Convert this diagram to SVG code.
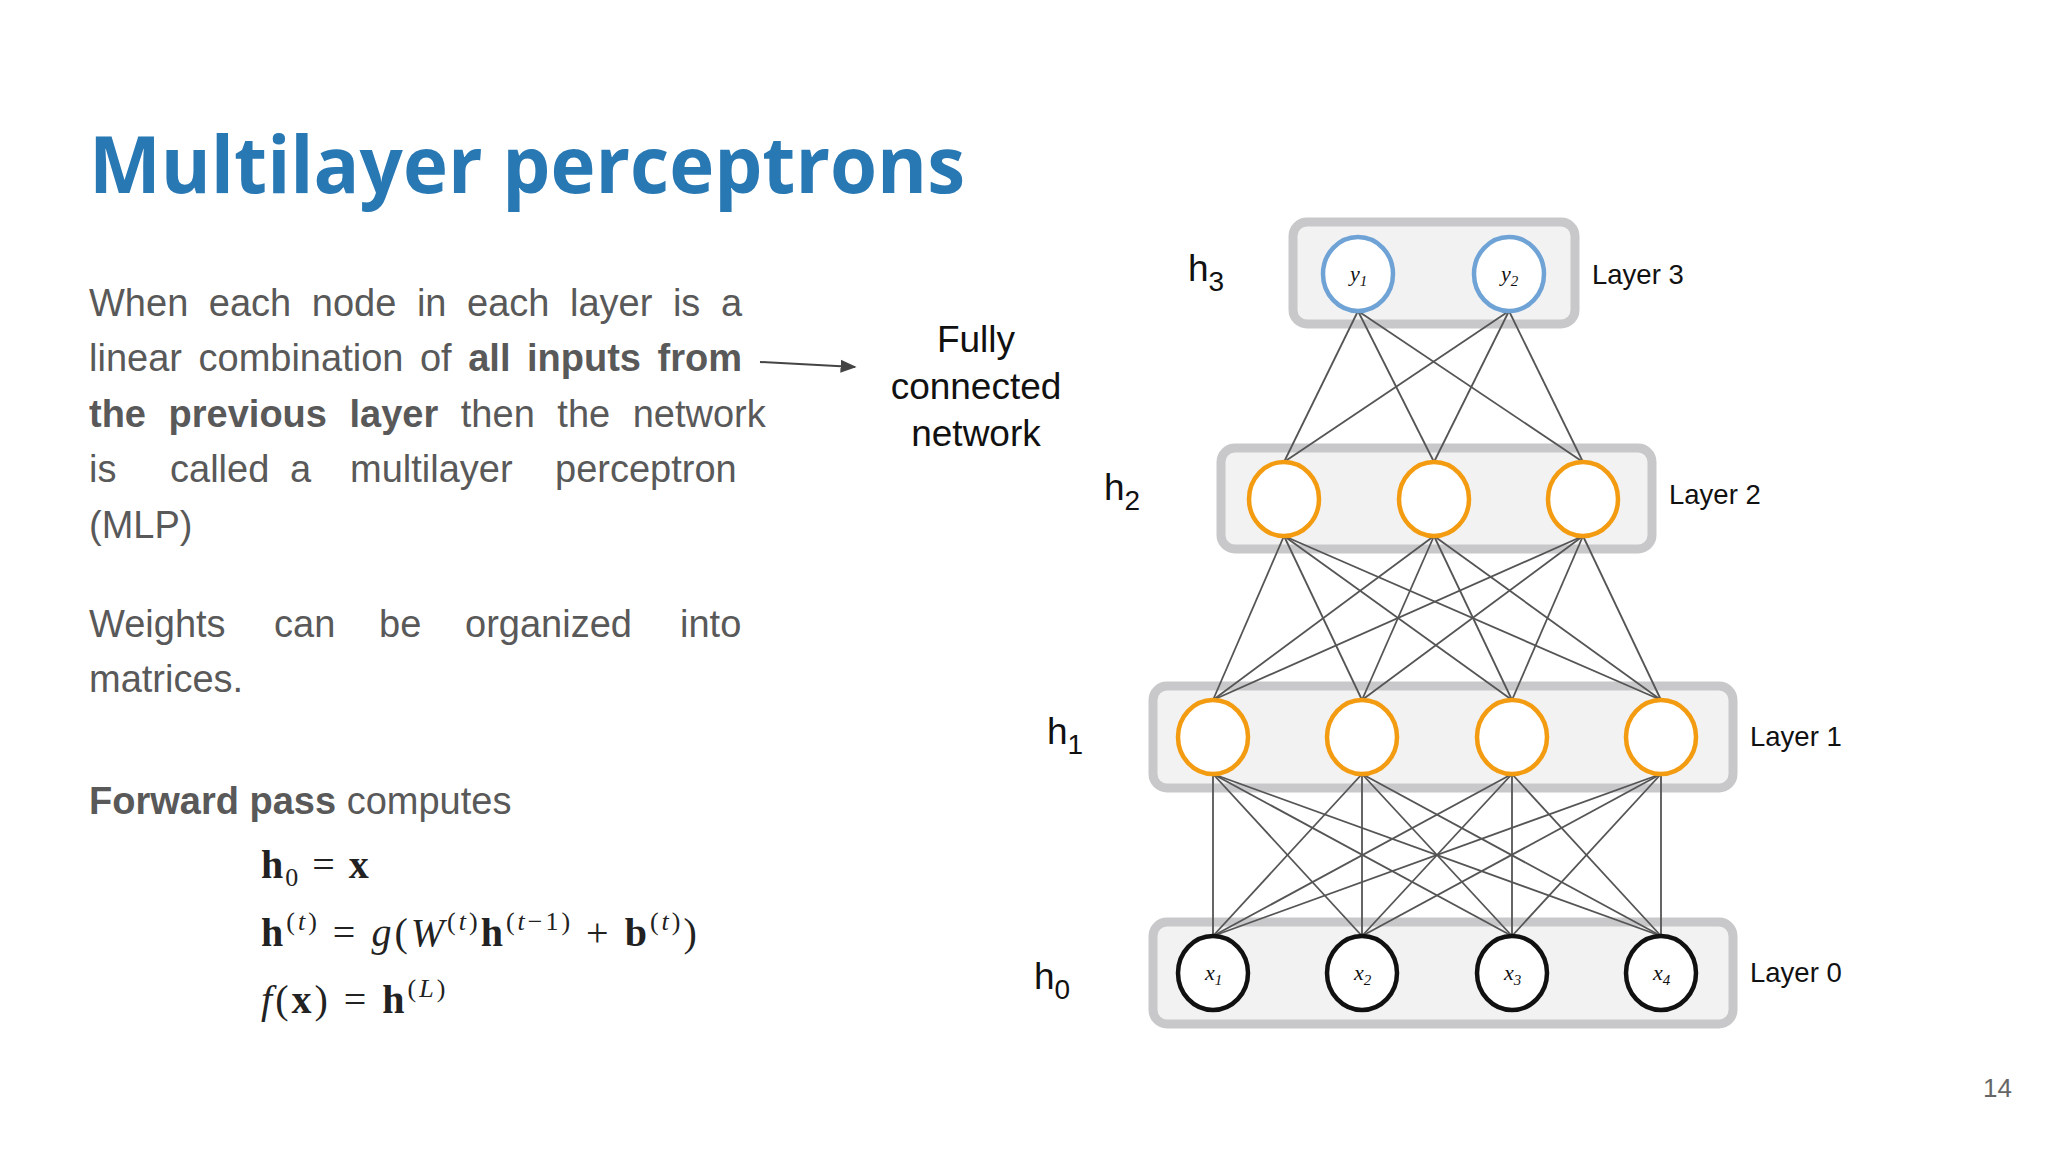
<svg xmlns="http://www.w3.org/2000/svg" width="2048" height="1152" viewBox="0 0 2048 1152">
<style>
.body{font-family:"Liberation Sans",Arial,sans-serif;font-size:38px;fill:#595959}
.b{font-weight:bold}
.box{fill:#f2f2f3;stroke:#c8c8ca;stroke-width:9}
.or{fill:#fff;stroke:#f39c12;stroke-width:4.5}
.bl{fill:#fff;stroke:#6fa3d6;stroke-width:4.5}
.bk{fill:#fff;stroke:#111;stroke-width:4.5}
.lay{font-family:"Liberation Sans",Arial,sans-serif;font-size:27.5px;fill:#111}
.h{font-family:"Liberation Sans",Arial,sans-serif;font-size:37px;fill:#111}
.nl{font-family:"Liberation Serif","Times New Roman",serif;font-style:italic;font-size:22px;fill:#111}
.eq{font-family:"Liberation Serif","Times New Roman",serif;font-size:40px;fill:#222}
.c line{stroke:#555;stroke-width:1.8}
</style>
<defs><marker id="ah" viewBox="0 0 10 10" refX="9" refY="5" markerWidth="8" markerHeight="8" orient="auto"><path d="M0,1 L10,5 L0,9 z" fill="#444"/></marker></defs>
<rect width="2048" height="1152" fill="#fff"/>
<text x="89" y="193" font-family="'Open Sans',Lato,sans-serif" font-weight="bold" font-size="78" fill="#2878b4" textLength="876" lengthAdjust="spacingAndGlyphs">Multilayer perceptrons</text>
<g id="text">
<text class="body" x="89" y="316" word-spacing="10">When each node in each layer is a</text>
<text class="body" x="89" y="371" word-spacing="6">linear combination of <tspan class="b">all inputs from</tspan></text>
<text class="body" x="89" y="427" word-spacing="12"><tspan class="b">the previous layer</tspan> then the network</text>
<text class="body" y="482"><tspan x="89">is</tspan><tspan x="170">called</tspan><tspan x="290">a</tspan><tspan x="350">multilayer</tspan><tspan x="555">perceptron</tspan></text>
<text class="body" x="89" y="538">(MLP)</text>
<text class="body" y="637"><tspan x="89">Weights</tspan><tspan x="274">can</tspan><tspan x="379">be</tspan><tspan x="465">organized</tspan><tspan x="680">into</tspan></text>
<text class="body" x="89" y="692">matrices.</text>
<text class="body" x="89" y="814"><tspan class="b">Forward pass</tspan> computes</text>
</g>
<g id="equations" class="eq">
<text x="261" y="878" letter-spacing="2"><tspan font-weight="bold">h</tspan><tspan font-size="26" dy="8">0</tspan><tspan dy="-8"> = </tspan><tspan font-weight="bold">x</tspan></text>
<text x="261" y="946" letter-spacing="3"><tspan font-weight="bold">h</tspan><tspan font-size="26" dy="-16">(<tspan font-style="italic">t</tspan>)</tspan><tspan dy="16"> = </tspan><tspan font-style="italic">g</tspan>(<tspan font-style="italic">W</tspan><tspan font-size="26" dy="-16">(<tspan font-style="italic">t</tspan>)</tspan><tspan dy="16" font-weight="bold">h</tspan><tspan font-size="26" dy="-16">(<tspan font-style="italic">t</tspan>−1)</tspan><tspan dy="16"> + </tspan><tspan font-weight="bold">b</tspan><tspan font-size="26" dy="-16">(<tspan font-style="italic">t</tspan>)</tspan><tspan dy="16">)</tspan></text>
<text x="261" y="1013" letter-spacing="3"><tspan font-style="italic">f</tspan>(<tspan font-weight="bold">x</tspan>) = <tspan font-weight="bold">h</tspan><tspan font-size="26" dy="-16">(<tspan font-style="italic">L</tspan>)</tspan></text>
</g>
<g id="fc-label">
<text class="h" text-anchor="middle" font-size="38.5"><tspan x="976" y="352">Fully</tspan><tspan x="976" y="399">connected</tspan><tspan x="976" y="446">network</tspan></text>
<line x1="760" y1="362" x2="855" y2="367" stroke="#444" stroke-width="2" marker-end="url(#ah)"/>
</g>
<g id="boxes">
<rect class="box" x="1293" y="222" width="282" height="102" rx="14"/>
<rect class="box" x="1221" y="448" width="431" height="101" rx="14"/>
<rect class="box" x="1153" y="686" width="580" height="102" rx="14"/>
<rect class="box" x="1153" y="922" width="580" height="102" rx="14"/>
</g>
<g id="connectors" class="c">
<line x1="1358" y1="311" x2="1284" y2="462"/><line x1="1358" y1="311" x2="1434" y2="462"/><line x1="1358" y1="311" x2="1583" y2="462"/>
<line x1="1509" y1="311" x2="1284" y2="462"/><line x1="1509" y1="311" x2="1434" y2="462"/><line x1="1509" y1="311" x2="1583" y2="462"/>
<line x1="1284" y1="536" x2="1213" y2="700"/><line x1="1284" y1="536" x2="1362" y2="700"/><line x1="1284" y1="536" x2="1512" y2="700"/><line x1="1284" y1="536" x2="1661" y2="700"/>
<line x1="1434" y1="536" x2="1213" y2="700"/><line x1="1434" y1="536" x2="1362" y2="700"/><line x1="1434" y1="536" x2="1512" y2="700"/><line x1="1434" y1="536" x2="1661" y2="700"/>
<line x1="1583" y1="536" x2="1213" y2="700"/><line x1="1583" y1="536" x2="1362" y2="700"/><line x1="1583" y1="536" x2="1512" y2="700"/><line x1="1583" y1="536" x2="1661" y2="700"/>
<line x1="1213" y1="774" x2="1213" y2="936"/><line x1="1213" y1="774" x2="1362" y2="936"/><line x1="1213" y1="774" x2="1512" y2="936"/><line x1="1213" y1="774" x2="1661" y2="936"/>
<line x1="1362" y1="774" x2="1213" y2="936"/><line x1="1362" y1="774" x2="1362" y2="936"/><line x1="1362" y1="774" x2="1512" y2="936"/><line x1="1362" y1="774" x2="1661" y2="936"/>
<line x1="1512" y1="774" x2="1213" y2="936"/><line x1="1512" y1="774" x2="1362" y2="936"/><line x1="1512" y1="774" x2="1512" y2="936"/><line x1="1512" y1="774" x2="1661" y2="936"/>
<line x1="1661" y1="774" x2="1213" y2="936"/><line x1="1661" y1="774" x2="1362" y2="936"/><line x1="1661" y1="774" x2="1512" y2="936"/><line x1="1661" y1="774" x2="1661" y2="936"/>
</g>
<g id="y1"><ellipse class="bl" cx="1358" cy="274" rx="35" ry="37"/><text class="nl" x="1350" y="281">y<tspan font-size="15" dy="5">1</tspan></text></g>
<g id="y2"><ellipse class="bl" cx="1509" cy="274" rx="35" ry="37"/><text class="nl" x="1501" y="281">y<tspan font-size="15" dy="5">2</tspan></text></g>
<g id="h2a"><ellipse class="or" cx="1284" cy="499" rx="35" ry="37"/></g>
<g id="h2b"><ellipse class="or" cx="1434" cy="499" rx="35" ry="37"/></g>
<g id="h2c"><ellipse class="or" cx="1583" cy="499" rx="35" ry="37"/></g>
<g id="h1a"><ellipse class="or" cx="1213" cy="737" rx="35" ry="37"/></g>
<g id="h1b"><ellipse class="or" cx="1362" cy="737" rx="35" ry="37"/></g>
<g id="h1c"><ellipse class="or" cx="1512" cy="737" rx="35" ry="37"/></g>
<g id="h1d"><ellipse class="or" cx="1661" cy="737" rx="35" ry="37"/></g>
<g id="x1"><ellipse class="bk" cx="1213" cy="973" rx="35" ry="37"/><text class="nl" x="1205" y="980">x<tspan font-size="15" dy="5">1</tspan></text></g>
<g id="x2"><ellipse class="bk" cx="1362" cy="973" rx="35" ry="37"/><text class="nl" x="1354" y="980">x<tspan font-size="15" dy="5">2</tspan></text></g>
<g id="x3"><ellipse class="bk" cx="1512" cy="973" rx="35" ry="37"/><text class="nl" x="1504" y="980">x<tspan font-size="15" dy="5">3</tspan></text></g>
<g id="x4"><ellipse class="bk" cx="1661" cy="973" rx="35" ry="37"/><text class="nl" x="1653" y="980">x<tspan font-size="15" dy="5">4</tspan></text></g>
<g id="labels">
<text class="lay" x="1592" y="284">Layer 3</text>
<text class="lay" x="1669" y="504">Layer 2</text>
<text class="lay" x="1750" y="746">Layer 1</text>
<text class="lay" x="1750" y="982">Layer 0</text>
<text class="h" x="1188" y="281">h<tspan font-size="28" dy="10">3</tspan></text>
<text class="h" x="1104" y="500">h<tspan font-size="28" dy="10">2</tspan></text>
<text class="h" x="1047" y="744">h<tspan font-size="28" dy="10">1</tspan></text>
<text class="h" x="1034" y="989">h<tspan font-size="28" dy="10">0</tspan></text>
</g>
<text x="2012" y="1097" text-anchor="end" font-family="'Liberation Sans',Arial,sans-serif" font-size="26" fill="#666">14</text>
</svg>
